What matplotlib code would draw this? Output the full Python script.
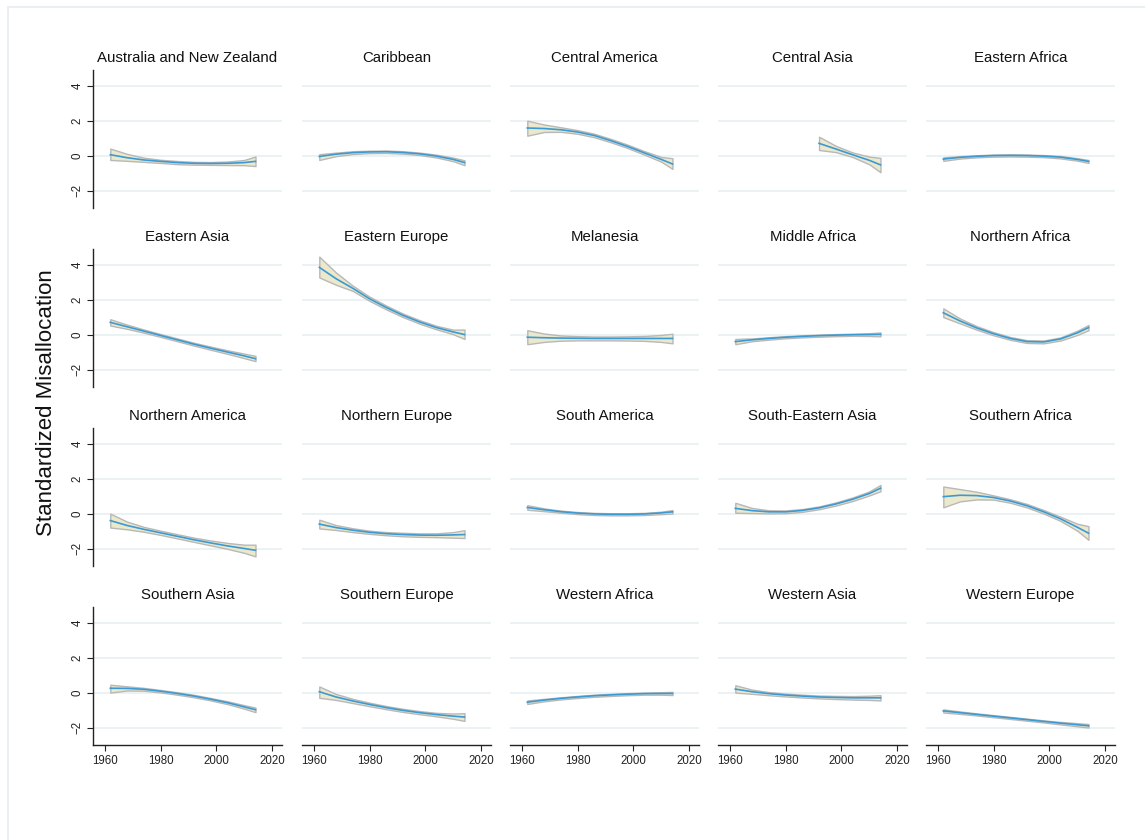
import matplotlib
matplotlib.use("Agg")
import matplotlib.pyplot as plt
from matplotlib.patches import Rectangle

plt.rcParams['font.family'] = ['Liberation Sans', 'DejaVu Sans']

W, H = 1145, 840

years = [1962, 1968, 1974, 1980, 1986, 1992, 1998, 2004, 2010, 2014]
years_central_asia = [1992, 1998, 2004, 2010, 2014]

regions = [
    "Australia and New Zealand", "Caribbean", "Central America", "Central Asia", "Eastern Africa",
    "Eastern Asia", "Eastern Europe", "Melanesia", "Middle Africa", "Northern Africa",
    "Northern America", "Northern Europe", "South America", "South-Eastern Asia", "Southern Africa",
    "Southern Asia", "Southern Europe", "Western Africa", "Western Asia", "Western Europe",
]

# fitted values and confidence bands (lower, upper) per region
fit_anz = [0.05, -0.12, -0.25, -0.33, -0.40, -0.44, -0.45, -0.44, -0.40, -0.33]
lo_anz = [-0.25, -0.30, -0.36, -0.42, -0.49, -0.52, -0.53, -0.54, -0.55, -0.60]
hi_anz = [0.40, 0.10, -0.12, -0.24, -0.31, -0.36, -0.37, -0.34, -0.25, -0.05]

fit_car = [-0.05, 0.08, 0.17, 0.21, 0.22, 0.18, 0.10, -0.03, -0.22, -0.40]
lo_car = [-0.25, -0.03, 0.09, 0.14, 0.15, 0.11, 0.03, -0.11, -0.32, -0.55]
hi_car = [0.08, 0.17, 0.25, 0.28, 0.29, 0.25, 0.17, 0.05, -0.12, -0.27]

fit_cam = [1.58, 1.55, 1.48, 1.35, 1.15, 0.85, 0.52, 0.15, -0.22, -0.48]
lo_cam = [1.14, 1.35, 1.36, 1.25, 1.05, 0.76, 0.43, 0.05, -0.35, -0.76]
hi_cam = [2.00, 1.78, 1.62, 1.46, 1.25, 0.95, 0.62, 0.25, -0.08, -0.15]

fit_cas = [0.70, 0.38, 0.05, -0.27, -0.53]
lo_cas = [0.32, 0.20, -0.08, -0.50, -0.95]
hi_cas = [1.08, 0.56, 0.18, -0.06, -0.13]

fit_eaf = [-0.20, -0.10, -0.04, 0.00, 0.01, 0.00, -0.03, -0.09, -0.22, -0.33]
lo_eaf = [-0.30, -0.17, -0.10, -0.06, -0.05, -0.06, -0.09, -0.16, -0.29, -0.42]
hi_eaf = [-0.10, -0.03, 0.02, 0.06, 0.07, 0.06, 0.03, -0.02, -0.15, -0.25]

fit_eas = [0.70, 0.45, 0.20, -0.05, -0.30, -0.55, -0.78, -1.00, -1.22, -1.38]
lo_eas = [0.52, 0.33, 0.11, -0.13, -0.38, -0.63, -0.87, -1.10, -1.35, -1.52]
hi_eas = [0.88, 0.57, 0.29, 0.03, -0.22, -0.47, -0.69, -0.90, -1.09, -1.22]

fit_eeu = [3.85, 3.20, 2.65, 2.05, 1.55, 1.10, 0.72, 0.40, 0.15, 0.00]
lo_eeu = [3.27, 2.85, 2.50, 1.93, 1.44, 1.00, 0.62, 0.30, 0.02, -0.25]
hi_eeu = [4.46, 3.55, 2.80, 2.17, 1.66, 1.20, 0.82, 0.50, 0.28, 0.29]

fit_mel = [-0.15, -0.18, -0.20, -0.21, -0.22, -0.22, -0.22, -0.22, -0.22, -0.22]
lo_mel = [-0.55, -0.42, -0.35, -0.33, -0.33, -0.33, -0.34, -0.36, -0.42, -0.50]
hi_mel = [0.25, 0.06, -0.05, -0.09, -0.11, -0.11, -0.10, -0.08, -0.02, 0.05]

fit_maf = [-0.40, -0.30, -0.22, -0.15, -0.10, -0.06, -0.03, -0.01, 0.00, 0.01]
lo_maf = [-0.55, -0.38, -0.29, -0.21, -0.16, -0.12, -0.09, -0.07, -0.08, -0.10]
hi_maf = [-0.25, -0.22, -0.15, -0.09, -0.04, 0.00, 0.03, 0.05, 0.08, 0.12]

fit_naf = [1.25, 0.78, 0.38, 0.05, -0.22, -0.40, -0.42, -0.25, 0.10, 0.40]
lo_naf = [1.00, 0.64, 0.28, -0.04, -0.30, -0.48, -0.50, -0.34, -0.02, 0.25]
hi_naf = [1.50, 0.92, 0.48, 0.14, -0.14, -0.32, -0.34, -0.16, 0.22, 0.55]

fit_nam = [-0.40, -0.68, -0.90, -1.10, -1.30, -1.50, -1.68, -1.85, -2.00, -2.10]
lo_nam = [-0.80, -0.90, -1.04, -1.22, -1.42, -1.62, -1.82, -2.02, -2.25, -2.45]
hi_nam = [0.00, -0.46, -0.76, -0.98, -1.18, -1.38, -1.54, -1.68, -1.78, -1.78]

fit_neu = [-0.60, -0.80, -0.95, -1.07, -1.15, -1.20, -1.23, -1.24, -1.22, -1.20]
lo_neu = [-0.85, -0.94, -1.06, -1.16, -1.24, -1.30, -1.33, -1.35, -1.38, -1.40]
hi_neu = [-0.35, -0.66, -0.84, -0.98, -1.06, -1.10, -1.13, -1.13, -1.06, -0.95]

fit_sam = [0.35, 0.22, 0.11, 0.03, -0.02, -0.04, -0.04, -0.02, 0.04, 0.10]
lo_sam = [0.22, 0.14, 0.05, -0.03, -0.08, -0.10, -0.10, -0.08, -0.03, 0.00]
hi_sam = [0.48, 0.30, 0.17, 0.09, 0.04, 0.02, 0.02, 0.04, 0.11, 0.20]

fit_sea = [0.30, 0.17, 0.10, 0.10, 0.18, 0.33, 0.55, 0.82, 1.15, 1.45]
lo_sea = [0.05, 0.03, 0.01, 0.02, 0.10, 0.25, 0.46, 0.72, 1.04, 1.28]
hi_sea = [0.62, 0.32, 0.19, 0.18, 0.26, 0.41, 0.64, 0.92, 1.27, 1.64]

fit_saf = [0.97, 1.05, 1.03, 0.92, 0.72, 0.45, 0.10, -0.30, -0.78, -1.12]
lo_saf = [0.36, 0.70, 0.81, 0.80, 0.62, 0.35, 0.00, -0.42, -0.98, -1.50]
hi_saf = [1.55, 1.40, 1.25, 1.04, 0.82, 0.55, 0.20, -0.18, -0.58, -0.72]

fit_sas = [0.25, 0.24, 0.19, 0.08, -0.05, -0.20, -0.38, -0.58, -0.82, -0.98]
lo_sas = [0.00, 0.12, 0.11, 0.01, -0.12, -0.27, -0.45, -0.66, -0.92, -1.12]
hi_sas = [0.45, 0.36, 0.27, 0.15, 0.02, -0.13, -0.31, -0.50, -0.72, -0.86]

fit_seu = [0.05, -0.25, -0.48, -0.68, -0.86, -1.02, -1.15, -1.26, -1.35, -1.40]
lo_seu = [-0.30, -0.42, -0.60, -0.78, -0.95, -1.11, -1.24, -1.36, -1.50, -1.62]
hi_seu = [0.35, -0.08, -0.36, -0.58, -0.77, -0.93, -1.06, -1.16, -1.20, -1.18]

fit_waf = [-0.55, -0.43, -0.33, -0.25, -0.18, -0.13, -0.09, -0.06, -0.05, -0.05]
lo_waf = [-0.65, -0.50, -0.39, -0.31, -0.24, -0.19, -0.15, -0.12, -0.12, -0.14]
hi_waf = [-0.45, -0.36, -0.27, -0.19, -0.12, -0.07, -0.03, 0.00, 0.02, 0.04]

fit_was = [0.20, 0.05, -0.06, -0.14, -0.20, -0.25, -0.28, -0.30, -0.30, -0.30]
lo_was = [0.00, -0.07, -0.15, -0.22, -0.28, -0.33, -0.37, -0.40, -0.42, -0.45]
hi_was = [0.42, 0.17, 0.03, -0.06, -0.12, -0.17, -0.19, -0.20, -0.18, -0.15]

fit_weu = [-1.05, -1.15, -1.25, -1.35, -1.45, -1.55, -1.65, -1.75, -1.84, -1.90]
lo_weu = [-1.14, -1.22, -1.31, -1.41, -1.51, -1.61, -1.71, -1.82, -1.93, -2.00]
hi_weu = [-0.96, -1.08, -1.19, -1.29, -1.39, -1.49, -1.59, -1.68, -1.75, -1.80]

series = [
    (years, fit_anz, lo_anz, hi_anz), (years, fit_car, lo_car, hi_car),
    (years, fit_cam, lo_cam, hi_cam), (years_central_asia, fit_cas, lo_cas, hi_cas),
    (years, fit_eaf, lo_eaf, hi_eaf),
    (years, fit_eas, lo_eas, hi_eas), (years, fit_eeu, lo_eeu, hi_eeu),
    (years, fit_mel, lo_mel, hi_mel), (years, fit_maf, lo_maf, hi_maf),
    (years, fit_naf, lo_naf, hi_naf),
    (years, fit_nam, lo_nam, hi_nam), (years, fit_neu, lo_neu, hi_neu),
    (years, fit_sam, lo_sam, hi_sam), (years, fit_sea, lo_sea, hi_sea),
    (years, fit_saf, lo_saf, hi_saf),
    (years, fit_sas, lo_sas, hi_sas), (years, fit_seu, lo_seu, hi_seu),
    (years, fit_waf, lo_waf, hi_waf), (years, fit_was, lo_was, hi_was),
    (years, fit_weu, lo_weu, hi_weu),
]

y_ticks = [-2, 0, 2, 4]
x_ticks = [1960, 1980, 2000, 2020]

GRID = "#e8f0f2"
BAND_FILL = "#ebe8cc"
BAND_EDGE = "#b8b8b8"
LINE = "#3a9ad4"
AXIS = "#222222"

fig = plt.figure(figsize=(W / 100, H / 100), dpi=100)
fig.patch.set_facecolor("white")

# thin outer frame
fig.add_artist(Rectangle((8 / W, -0.05), 1.2, 1 - 7 / H + 0.05, transform=fig.transFigure,
                         fill=False, edgecolor=GRID, linewidth=1.5))

col_left = [93, 302, 510, 718, 926]
panel_w = 189
row_top = [70, 249, 428, 607]
panel_h = 138

for i, (name, (yrs, fit, lo, hi)) in enumerate(zip(regions, series)):
    r, c = divmod(i, 5)
    ax = fig.add_axes([col_left[c] / W, 1 - (row_top[r] + panel_h) / H, panel_w / W, panel_h / H])
    ax.set_xlim(1955.8, 2023.5)
    ax.set_ylim(-3, 4.9)
    for t in y_ticks:
        ax.axhline(t, color=GRID, linewidth=1.2, zorder=0)
    ax.fill_between(yrs, lo, hi, facecolor=BAND_FILL, edgecolor=BAND_EDGE, linewidth=1.0, zorder=2)
    ax.plot(yrs, fit, color=LINE, linewidth=1.2, zorder=3)
    ax.set_title(name, fontsize=10.8, pad=6, color="#111111")

    for s in ("top", "right"):
        ax.spines[s].set_visible(False)
    ax.spines["left"].set_visible(c == 0)
    ax.spines["bottom"].set_visible(r == 3)
    ax.spines["left"].set_color(AXIS)
    ax.spines["bottom"].set_color(AXIS)
    ax.spines["left"].set_linewidth(1.0)
    ax.spines["bottom"].set_linewidth(1.0)

    ax.set_yticks(y_ticks)
    ax.set_xticks(x_ticks)
    if c == 0:
        ax.tick_params(axis="y", length=4, width=0.8, colors=AXIS, labelsize=8.3, pad=3)
        for lab in ax.get_yticklabels():
            lab.set_rotation(90)
            lab.set_va("center")
    else:
        ax.tick_params(axis="y", left=False, labelleft=False)
    if r == 3:
        ax.tick_params(axis="x", length=4, width=0.8, colors=AXIS, labelsize=8.3, pad=3)
    else:
        ax.tick_params(axis="x", bottom=False, labelbottom=False)
    ax.set_facecolor("none")

fig.text(47 / W, 1 - 403 / H, "Standardized Misallocation", rotation=90, fontsize=16,
         ha="center", va="center", color="#111111")

fig.savefig("out.png", dpi=100, facecolor="white")
